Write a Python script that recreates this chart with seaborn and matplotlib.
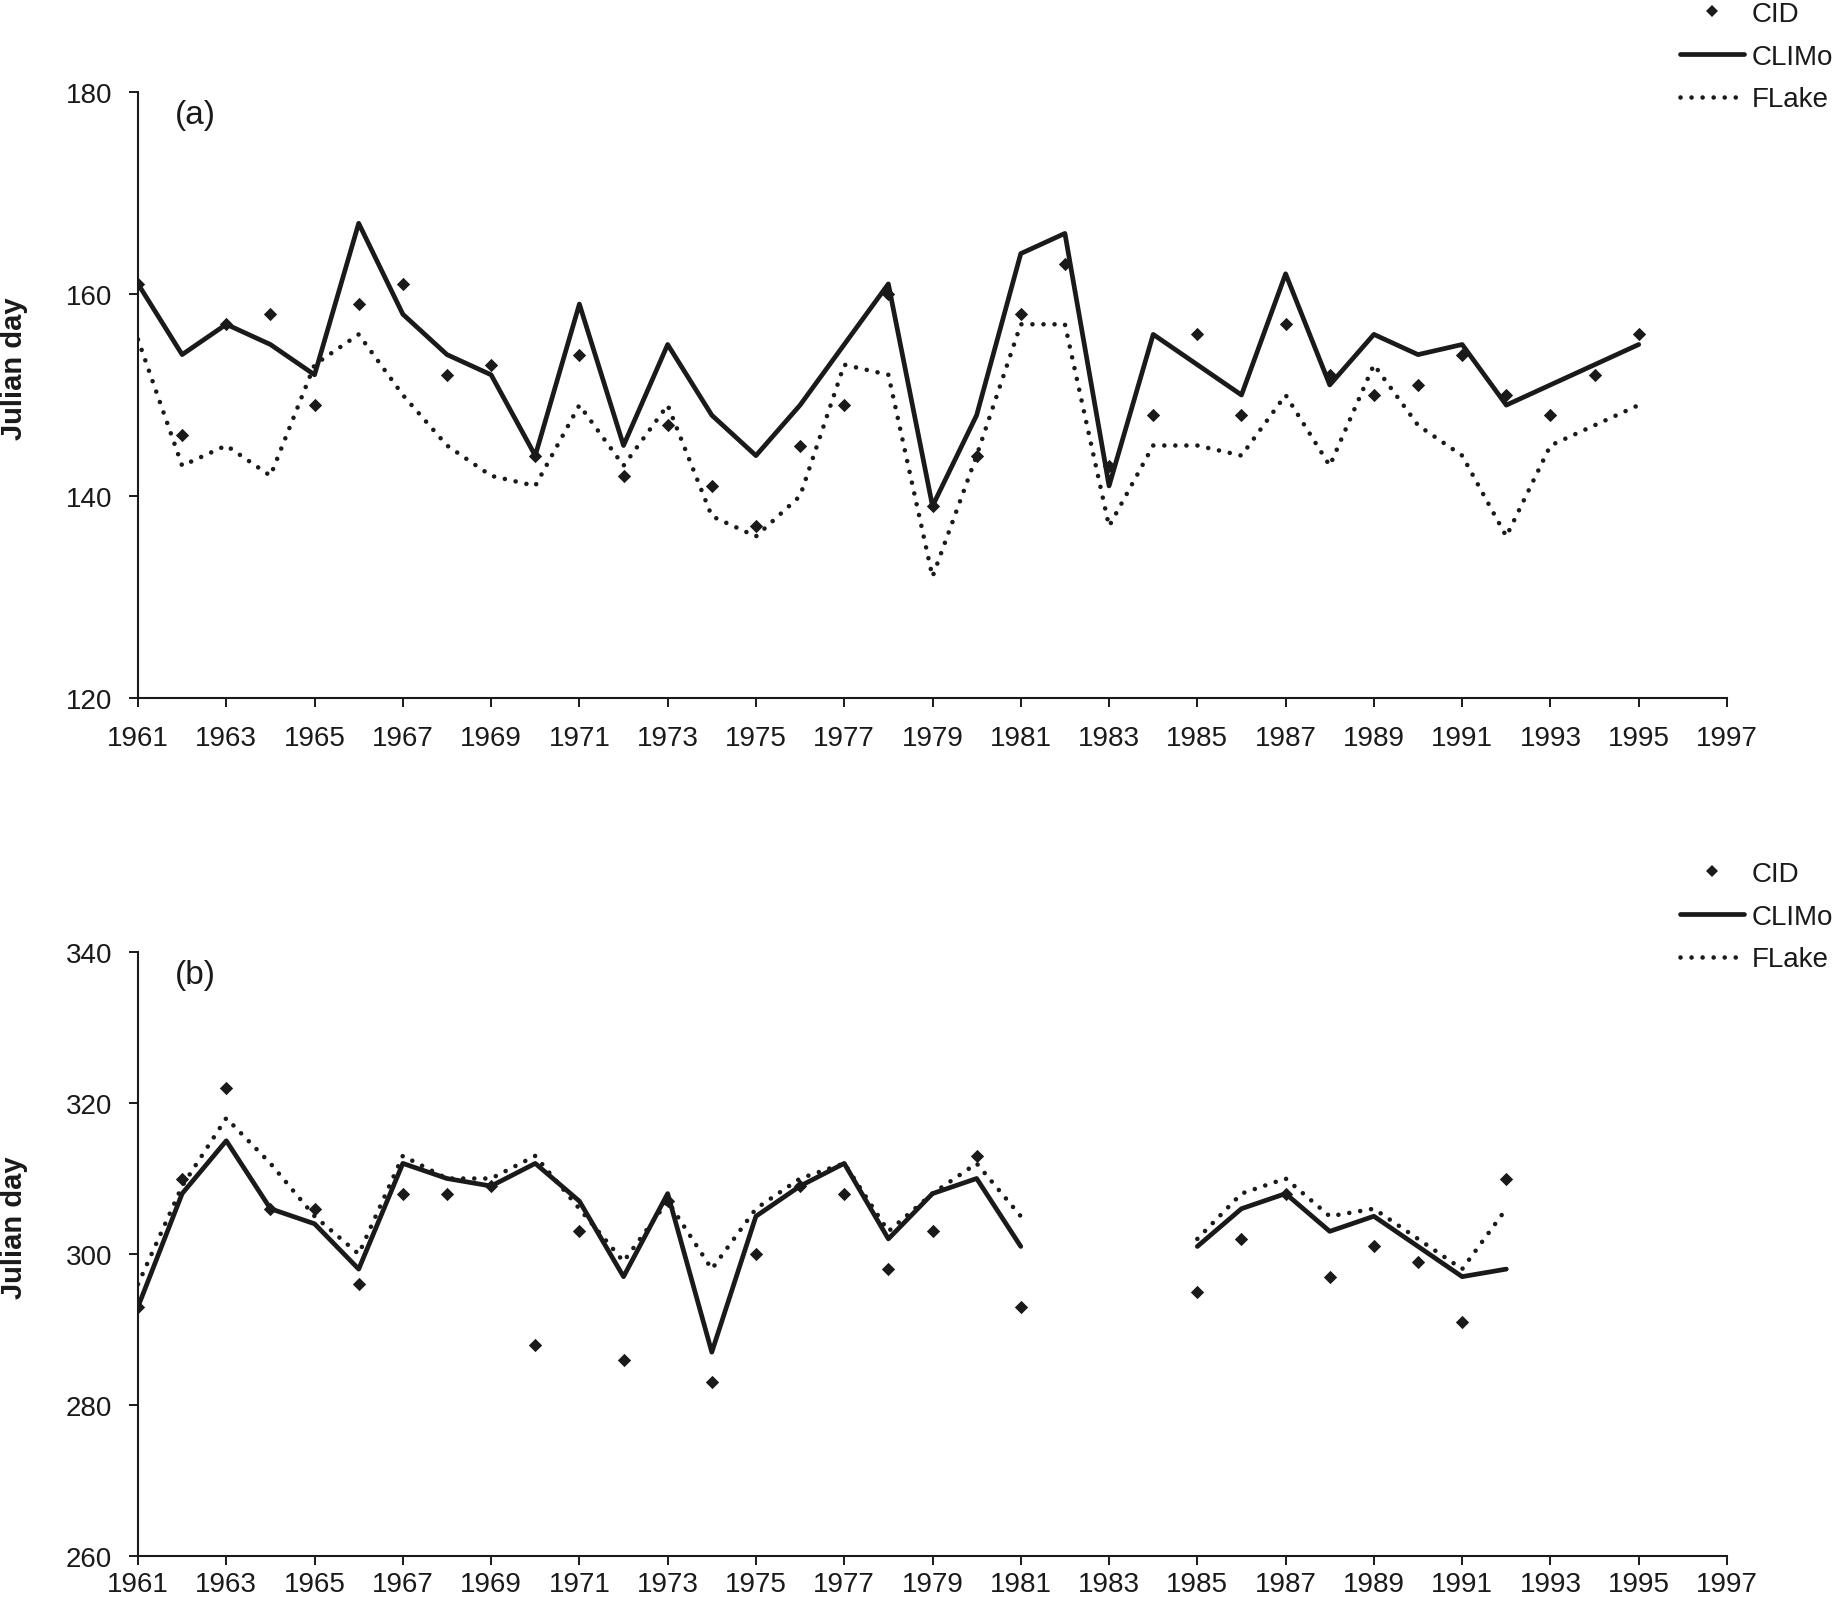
import numpy as np
import pandas as pd
import matplotlib
matplotlib.use("Agg")
import matplotlib.pyplot as plt
from matplotlib.lines import Line2D
import seaborn as sns

sns.set_theme(style="ticks")
plt.rcParams['font.family'] = ['Liberation Sans', 'DejaVu Sans']

years = list(range(1961, 1996))

# Panel (a): break-up dates
cid_a = [161, 146, 157, 158, 149, 159, 161, 152, 153, 144, 154, 142, 147, 141, 137, 145, 149, 160,
         139, 144, 158, 163, 143, 148, 156, 148, 157, 152, 150, 151, 154, 150, 148, 152, 156]
climo_a = [161, 154, 157, 155, 152, 167, 158, 154, 152, 144, 159, 145, 155, 148, 144, 149, 155, 161,
           139, 148, 164, 166, 141, 156, 153, 150, 162, 151, 156, 154, 155, 149, 151, 153, 155]
flake_a = [155.5, 143, 145, 142, 153, 156, 150, 145, 142, 141, 149, 143, 149, 138, 136, 140, 153, 152,
           132, 144, 157, 157, 137, 145, 145, 144, 150, 143, 153, 147, 144, 136, 145, 147, 149]

# Panel (b): freeze-up dates (NaN = no data)
nan = np.nan
cid_b = [293, 310, 322, 306, 306, 296, 308, 308, 309, 288, 303, 286, 307, 283, 300, 309, 308, 298,
         303, 313, 293, nan, nan, nan, 295, 302, 308, 297, 301, 299, 291, 310, nan, nan, nan]
climo_b = [293, 308, 315, 306, 304, 298, 312, 310, 309, 312, 307, 297, 308, 287, 305, 309, 312, 302,
           308, 310, 301, nan, nan, nan, 301, 306, 308, 303, 305, 301, 297, 298, nan, nan, nan]
flake_b = [296, 309, 318, 312, 305, 300, 313, 310, 310, 313, 306, 299, 307, 298, 306, 310, 312, 303,
           308, 312, 305, nan, nan, nan, 302, 308, 310, 305, 306, 302, 298, 306, nan, nan, nan]

xticks = list(range(1961, 1998, 2))
yticks_a = [120, 140, 160, 180]
yticks_b = [260, 280, 300, 320, 340]


def long_lines(climo, flake):
    frames = []
    for name, vals in (("CLIMo", climo), ("FLake", flake)):
        s = pd.Series(vals, dtype=float)
        seg = s.isna().cumsum()
        df = pd.DataFrame({"year": years, "day": s, "model": name,
                           "unit": [f"{name}_{k}" for k in seg]})
        frames.append(df.dropna())
    return pd.concat(frames, ignore_index=True)


W, H = 1837, 1606
fig = plt.figure(figsize=(W / 100, H / 100), dpi=100)
L = 138 / W
R = 1727 / W
ax_a = fig.add_axes([L, 1 - 699 / H, R - L, (699 - 93) / H])
ax_b = fig.add_axes([L, 1 - 1557 / H, R - L, (1557 - 953) / H])

FS = 20
INK = "#1a1a1a"
dot_dash = (0.01, 2.4)
DOT_LW = 3.3
SOLID_LW = 3.4

for ax, cid, climo, flake, yt, lab, xpad in ((ax_a, cid_a, climo_a, flake_a, yticks_a, "(a)", 13),
                                             (ax_b, cid_b, climo_b, flake_b, yticks_b, "(b)", 4)):
    lines = long_lines(climo, flake)
    sub_c = lines[lines.model == "CLIMo"]
    sub_f = lines[lines.model == "FLake"]
    sns.lineplot(data=sub_f, x="year", y="day", units="unit", estimator=None, ax=ax,
                 color=INK, linewidth=DOT_LW, legend=False, sort=True)
    for ln in ax.get_lines():
        ln.set_dashes(dot_dash)
        ln.set_dash_capstyle("round")
    sns.lineplot(data=sub_c, x="year", y="day", units="unit", estimator=None, ax=ax,
                 color=INK, linewidth=SOLID_LW, legend=False, sort=True)
    cdf = pd.DataFrame({"year": years, "day": cid}).dropna()
    sns.scatterplot(data=cdf, x="year", y="day", ax=ax, marker="D", s=46,
                    color=INK, linewidth=0, legend=False, zorder=5)

    ax.set_xlim(1961, 1997)
    ax.set_ylim(yt[0], yt[-1])
    ax.set_xticks(xticks)
    ax.set_yticks(yt)
    ax.tick_params(axis="both", labelsize=FS, length=6.5, width=1.4, color=INK,
                   labelcolor=INK, direction="out")
    ax.tick_params(axis="x", pad=xpad)
    ax.tick_params(axis="y", pad=12)
    for sp in ("top", "right"):
        ax.spines[sp].set_visible(False)
    for sp in ("left", "bottom"):
        ax.spines[sp].set_linewidth(1.5)
        ax.spines[sp].set_color(INK)
    ax.set_xlabel("")
    ax.set_ylabel("Julian day", fontsize=21, fontweight="bold", color=INK)
    ax.yaxis.set_label_coords(-0.0692, 0.545)
    ax.text(37 / 1589, 0.963, lab, transform=ax.transAxes, fontsize=24, va="center",
            ha="left", color=INK)
    ax.set_facecolor("white")

    handles = [
        Line2D([], [], linestyle="none", marker="D", markersize=6.6, color=INK,
               markeredgewidth=0),
        Line2D([], [], color=INK, linewidth=SOLID_LW),
        Line2D([], [], color=INK, linewidth=DOT_LW, dashes=dot_dash,
               dash_capstyle="round"),
    ]
    top_px = 93 if lab == "(a)" else 953
    leg_top_px = top_px - 91
    fig.legend(handles, ["CID", "CLIMo", "FLake"], loc="upper left",
               bbox_to_anchor=(1680 / W, 1 - leg_top_px / H),
               bbox_transform=fig.transFigure, frameon=False, fontsize=FS,
               handlelength=2.3, handletextpad=0.29, labelspacing=0.6,
               borderpad=0, borderaxespad=0, labelcolor=INK)

fig.patch.set_facecolor("white")
fig.savefig("out.png", dpi=100, facecolor="white")
